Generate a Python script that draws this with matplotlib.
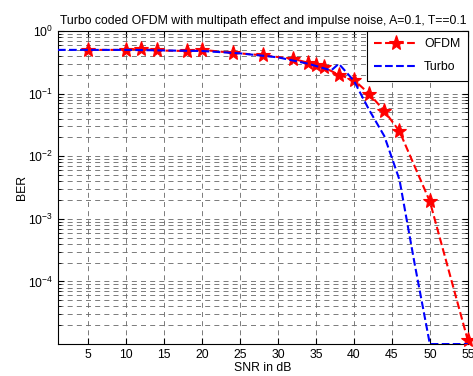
import numpy as np
import matplotlib
matplotlib.use('Agg')
from matplotlib import pyplot as plt
from matplotlib.ticker import LogLocator, FixedLocator, NullFormatter

plt.rcParams['font.family'] = ['Liberation Sans', 'DejaVu Sans']

# SNR (dB) and BER
snr_ofdm = [5, 10, 12, 14, 18, 20, 24, 28, 32, 34, 35, 36, 38, 40, 42, 44, 46, 50, 55]
ber_ofdm = [0.50, 0.50, 0.52, 0.49, 0.48, 0.50, 0.45, 0.41, 0.36, 0.31, 0.285, 0.265,
            0.20, 0.165, 0.10, 0.053, 0.025, 0.0019, 1.15e-5]

snr_turbo = [1, 5, 10, 15, 20, 25, 30, 34, 37, 38, 40, 42, 44, 46, 48, 50, 55]
ber_turbo = [0.50, 0.50, 0.50, 0.49, 0.48, 0.44, 0.38, 0.30, 0.235, 0.30, 0.16, 0.055,
             0.021, 0.0042, 0.00019, 1e-5, 1e-5]

xticks = [5, 10, 15, 20, 25, 30, 35, 40, 45, 50, 55]
yticks = [1e-4, 1e-3, 1e-2, 1e-1, 1e0]

fs = 8.8

fig = plt.figure(figsize=(4.73, 3.76), dpi=100)
ax = fig.add_axes([0.1226, 0.085, 0.8664, 0.8324])

ax.semilogy(snr_ofdm, ber_ofdm, 'r--*', linewidth=1.5, markersize=11,
            markeredgewidth=0.8, label='OFDM', clip_on=False, zorder=3)
ax.semilogy(snr_turbo, ber_turbo, 'b--', linewidth=1.5, label='Turbo', zorder=4)

ax.set_xlim(1, 55)
ax.set_ylim(1e-5, 1)
ax.set_xticks(xticks)
ax.yaxis.set_major_locator(FixedLocator(yticks))
ax.yaxis.set_minor_locator(LogLocator(base=10, subs=np.arange(2, 10), numticks=20))
ax.yaxis.set_minor_formatter(NullFormatter())

grid_style = dict(color='0.4', linestyle=(0, (6, 5)), linewidth=0.6)
ax.grid(True, which='major', axis='both', **grid_style)
ax.grid(True, which='minor', axis='y', **grid_style)
ax.set_axisbelow(True)

ax.tick_params(which='both', direction='in', top=True, right=True, labelsize=fs)
ax.tick_params(which='major', length=4)
ax.tick_params(which='minor', length=2)
for s in ax.spines.values():
    s.set_linewidth(0.8)

ax.set_xlabel('SNR in dB', fontsize=fs, labelpad=1)
ax.set_ylabel('BER', fontsize=fs, labelpad=0)
ax.set_title('Turbo coded OFDM with multipath effect and impulse noise, A=0.1, T==0.1',
             fontsize=fs, pad=5)

leg = ax.legend(loc='upper right', fontsize=fs, fancybox=False, framealpha=1,
                edgecolor='black', borderaxespad=0, handlelength=3.6,
                labelspacing=0.9, borderpad=0.6, handletextpad=0.5)
leg.get_frame().set_linewidth(0.8)

fig.savefig('out.png', dpi=100)
